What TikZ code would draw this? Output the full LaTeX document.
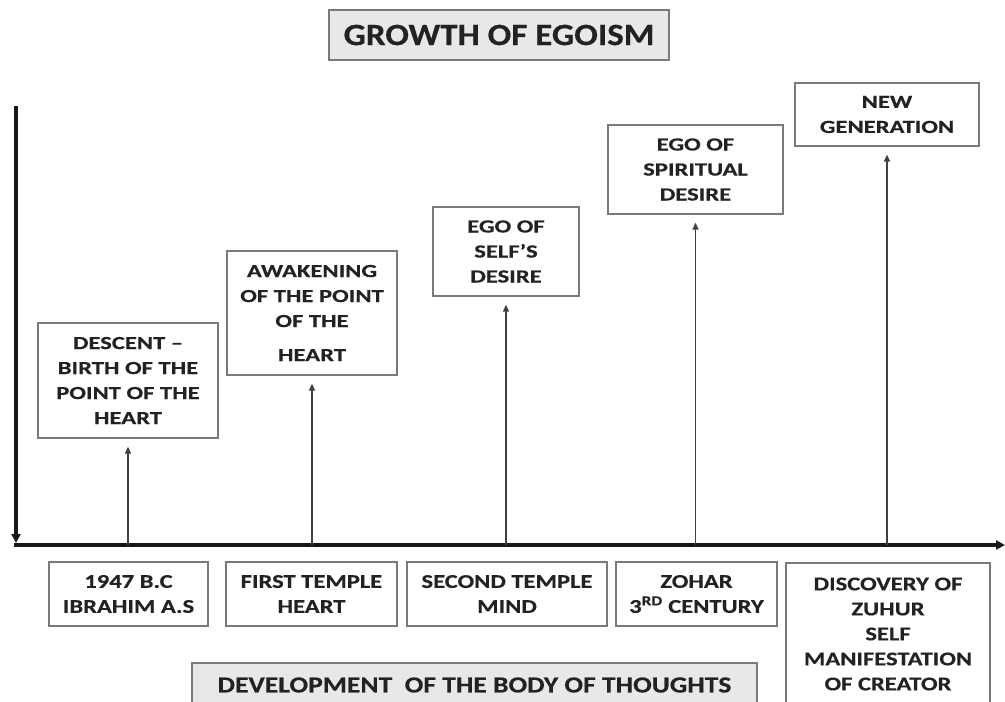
\documentclass[tikz,border=0pt]{standalone}
\usepackage{fontspec}
\setmainfont{Carlito}
\newfontfamily\titlefont[FakeStretch=1.13,FakeBold=0.4]{Carlito Bold}
\newfontfamily\stagefont[FakeStretch=1.33,FakeBold=0.4]{Carlito Bold}
\newfontfamily\erafont[FakeStretch=1.26,FakeBold=0.4]{Carlito Bold}
\newfontfamily\devfont[FakeStretch=1.2,FakeBold=0.4]{Carlito Bold}
\usetikzlibrary{arrows.meta}
\definecolor{boxline}{HTML}{7A7A7A}
\definecolor{txt}{HTML}{222222}
\definecolor{grayfill}{HTML}{E8E8E8}
\tikzset{
  stage/.style={draw=boxline, line width=1.3pt, fill=white, align=center, inner sep=0pt,
    text=txt, font=\stagefont\fontsize{18.5}{25}\selectfont},
  era/.style={stage, font=\erafont\fontsize{19.5}{25}\selectfont},
  banner/.style={draw=boxline, line width=1.3pt, fill=grayfill, align=center, inner sep=0pt, text=txt},
  axisline/.style={line width=3.2pt, draw=black!90, -{Triangle[length=9pt,width=9pt]}},
  riser/.style={line width=1.4pt, draw=black!75, -{Triangle[length=7pt,width=6pt]}, shorten >=8pt},
}
\begin{document}
\begin{tikzpicture}[x=1pt,y=-1pt]
\useasboundingbox[fill=white] (0,0) rectangle (1005,702);
% title
\node[banner, minimum width=340pt, minimum height=50pt, font=\titlefont\fontsize{31}{36}\selectfont] (title) at (499,35) {GROWTH OF EGOISM};
% axes
\coordinate (origin) at (16,545);
\coordinate (ytop) at (16,106);
\coordinate (xend) at (1005,545);
\draw[axisline] (ytop) -- ([yshift=2pt]origin);
\draw[axisline] ([xshift=-1.6pt]origin) -- (xend);
% upper boxes
\node[stage, minimum width=180pt, minimum height=115pt] (s1) at (128,380.5) {DESCENT –\\BIRTH OF THE\\POINT OF THE\\HEART};
\node[stage, minimum width=170pt, minimum height=124pt] (s2) at (312,313) {AWAKENING\\OF THE POINT\\OF THE\\[9pt]HEART};
\node[stage, minimum width=146pt, minimum height=89pt] (s3) at (506,251.5) {EGO OF\\SELF’S\\DESIRE};
\node[stage, minimum width=175pt, minimum height=89pt] (s4) at (695.5,169.5) {EGO OF\\SPIRITUAL\\DESIRE};
\node[stage, minimum width=184pt, minimum height=63pt] (s5) at (887,114.5) {NEW\\GENERATION};
% risers
\foreach \i in {1,...,5} {
  \coordinate (p\i) at (s\i.south |- origin);
  \draw[riser] (p\i) -- (s\i.south);
}
% lower boxes
\node[era, minimum width=159pt, minimum height=64pt] (e1) at (128.5,594) {1947 B.C\\IBRAHIM A.S};
\node[era, minimum width=171pt, minimum height=64pt] (e2) at (311.5,594) {FIRST TEMPLE\\HEART};
\node[era, minimum width=200pt, minimum height=64pt] (e3) at (507,594) {SECOND TEMPLE\\MIND};
\node[era, minimum width=161pt, minimum height=64pt] (e4) at (696.5,594) {ZOHAR\\3\textsuperscript{RD} CENTURY};
\node[era, minimum width=204pt, minimum height=142pt] (e5) at (888,634) {DISCOVERY OF\\ZUHUR\\SELF\\MANIFESTATION\\OF CREATOR};
\node[banner, minimum width=565pt, minimum height=44pt, font=\devfont\fontsize{23}{26}\selectfont] (dev) at (474.5,685) {DEVELOPMENT\ \ OF THE BODY OF THOUGHTS};
\end{tikzpicture}
\end{document}
